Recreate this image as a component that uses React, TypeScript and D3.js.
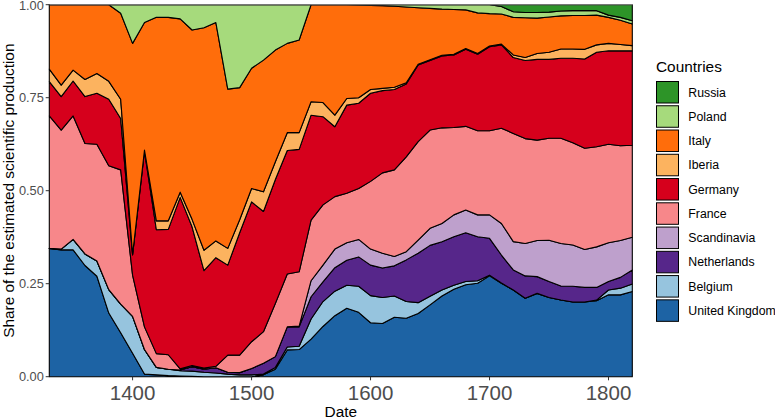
import React from "react";
import * as d3 from "d3";

const years = [1330,1340,1350,1360,1370,1380,1390,1400,1410,1420,1430,1440,1450,1460,1470,1480,1490,1500,1510,1520,1530,1540,1550,1560,1570,1580,1590,1600,1610,1620,1630,1640,1650,1660,1670,1680,1690,1700,1710,1720,1730,1740,1750,1760,1770,1780,1790,1800,1810,1820];

const unitedKingdom = [.345,.341,.341,.299,.270,.171,.118,.063,.007,.005, .003,.002,.001,0,0,0,0,0,.005,.020, .072,.073,.101,.135,.164,.184,.173,.145,.143,.160, .157,.170,.193,.217,.235,.247,.251,.271,.251,.233, .211,.224,.213,.206,.201,.201,.204,.220,.220,.229];
const belgium = [0,.002,.028,.031,.041,.063,.077,.099,.066,.020, .017,.014,.014,.012,.010,.007,.005,.005,.002,.005, .008,.009,.054,.067,.066,.062,.070,.073,.070,.057, .045,.029,.023,.016,.011,.009,.007,.002,.001,0, 0,0,0,0,0,0,.002,.013,.018,.020];
const netherlands = [0,0,0,0,0,0,0,0,0,0, 0,.002,.012,.008,.014,.005,.006,.017,.029,.029, .054,.052,.060,.053,.063,.067,.079,.082,.079,.081, .112,.133,.137,.130,.130,.131,.118,.099,.075,.054, .060,.045,.043,.038,.042,.039,.034,.023,.029,.038];
const scandinavia = [0,0,0,0,0,0,0,0,0,0, 0,0,0,0,0,0,0,0,0,0, 0,.002,.043,.045,.050,.047,.047,.043,.040,.025, .022,.035,.046,.049,.059,.061,.059,.063,.085,.076, .087,.097,.111,.114,.111,.102,.109,.104,.099,.088];
const france = [.356,.320,.332,.297,.314,.333,.361,.111,.061,.037, .039,.003,.003,.003,.004,.046,.047,.072,.085,.143, .142,.146,.163,.162,.141,.133,.137,.182,.216,.233, .255,.265,.264,.257,.235,.225,.226,.226,.256,.291, .282,.270,.274,.283,.275,.272,.269,.265,.255,.247];
const germany = [.092,.090,.094,.126,.137,.179,.138,.054,.472,.333, .337,.461,.373,.262,.292,.242,.329,.376,.323,.333, .332,.329,.282,.237,.188,.237,.229,.237,.221,.216, .196,.206,.187,.193,.195,.207,.206,.226,.224,.204, .210,.217,.212,.215,.227,.240,.254,.251,.255,.254];
const iberia = [.034,.031,.029,.046,.053,.048,.052,.002,.003,.024, .023,.014,.020,.055,.045,.045,.035,.036,.053,.048, .048,.045,.036,.038,.031,.018,.015,.010,.006,.006, .003,.002,.002,.002,.002,.002,.002,.002,.002,.007, .008,.016,.019,.025,.025,.026,.020,.020,.017,.014];
const italy = [.173,.216,.176,.201,.185,.206,.231,.567,.343,.547, .547,.466,.509,.598,.587,.428,.355,.323,.354,.300, .240,.249,.261,.263,.297,.252,.249,.226,.222,.218, .204,.152,.138,.124,.120,.104,.109,.087,.081,.101, .107,.095,.095,.089,.090,.091,.080,.070,.065,.058];
const poland = [0,0,0,0,0,0,.023,.104,.048,.034, .034,.038,.068,.062,.048,.227,.223,.171,.149,.122, .104,.095,0,0,0,0,.001,.002,.003,.004, .006,.008,.010,.012,.013,.014,.022,.024,.020,.015, .014,.015,.013,.013,.013,.013,.012,.006,.008,.009];
const russia = [0,0,0,0,0,0,0,0,0,0, 0,0,0,0,0,0,0,0,0,0, 0,0,0,0,0,0,0,0,0,0, 0,0,0,0,0,0,0,0,.005,.019, .021,.021,.020,.017,.016,.016,.016,.028,.034,.043];

const countries = ["United Kingdom","Belgium","Netherlands","Scandinavia","France","Germany","Iberia","Italy","Poland","Russia"];
const seriesValues = [unitedKingdom, belgium, netherlands, scandinavia, france, germany, iberia, italy, poland, russia];
const colors = ["#1d63a4","#96c4de","#56268a","#bea0cc","#f7878a","#d6001c","#fcb35f","#ff6d0b","#a6da7c","#2d9428"];
const xTicks = [1400,1500,1600,1700,1800];
const yTicks = [0,0.25,0.5,0.75,1];

export default function App() {
  const W = 775, H = 419;
  const left = 49.3, right = 632.3, top = 4.7, bottom = 376.7;
  const rows = years.map((y, i) => {
    const r: any = { year: y };
    countries.forEach((c, k) => (r[c] = seriesValues[k][i]));
    return r;
  });
  const stack = d3.stack<any>().keys(countries).offset(d3.stackOffsetExpand);
  const layers = stack(rows);
  const x = d3.scaleLinear().domain([1330, 1820]).range([left, right]);
  const y = d3.scaleLinear().domain([0, 1]).range([bottom, top]);
  const area = d3.area<any>()
    .x((d) => x(d.data.year))
    .y0((d) => y(d[0]))
    .y1((d) => y(d[1]))
    .curve(d3.curveLinear);
  const font = "Liberation Sans, Arial, sans-serif";
  const legendOrder = countries.map((c, i) => i).reverse();
  return (
    <svg width={W} height={H} style={{ position: "absolute", left: 0, top: 0, background: "#fff" }} fontFamily={font}>
      {layers.map((L, i) => (
        <path key={countries[i]} d={area(L) || ""} fill={colors[i]} stroke="#000" strokeWidth={1.1} strokeLinejoin="round" />
      ))}
      <line x1={left} x2={right} y1={top} y2={top} stroke="#777" strokeWidth={1.2} />
      {yTicks.map((t) => (
        <g key={"y" + t}>
          <line x1={left - 3.6} x2={left} y1={y(t)} y2={y(t)} stroke="#333" strokeWidth={1} />
          <text x={left - 5.5} y={y(t)} dy={t === 1 ? "0.42em" : "0.36em"} textAnchor="end" fontSize={12.8} fill="#4d4d4d">{t.toFixed(2)}</text>
        </g>
      ))}
      {xTicks.map((t) => (
        <g key={"x" + t}>
          <line x1={x(t)} x2={x(t)} y1={bottom} y2={bottom + 3.6} stroke="#333" strokeWidth={1} />
          <text x={x(t)} y={400} textAnchor="middle" fontSize={20.5} fill="#4d4d4d">{t}</text>
        </g>
      ))}
      <text x={(left + right) / 2} y={417} textAnchor="middle" fontSize={15.4} fill="#000">Date</text>
      <text transform={`translate(13.5, ${(top + bottom) / 2}) rotate(-90)`} textAnchor="middle" fontSize={15.4} fill="#000">Share of the estimated scientific production</text>
      <text x={656} y={72} fontSize={15.4} fill="#000">Countries</text>
      {legendOrder.map((k, j) => (
        <g key={"l" + k}>
          <rect x={656.5} y={81.5 + j * 24.26} width={22} height={21.5} fill={colors[k]} stroke="#000" strokeWidth={1} />
          <text x={688.3} y={81.5 + j * 24.26 + 10.75} dy="0.36em" fontSize={12.3} fill="#000">{countries[k]}</text>
        </g>
      ))}
    </svg>
  );
}
